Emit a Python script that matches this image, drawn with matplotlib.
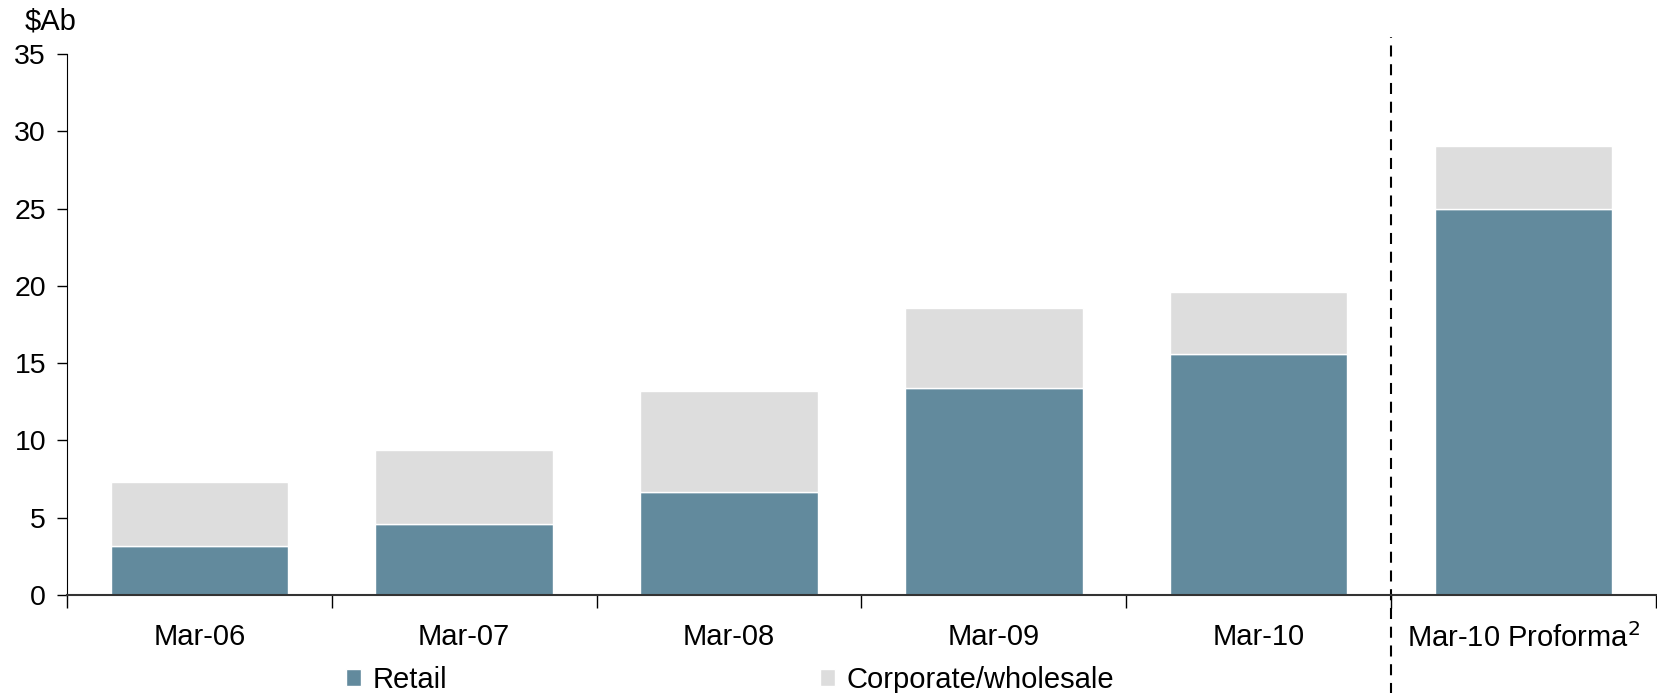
import matplotlib
matplotlib.use("Agg")
import matplotlib.pyplot as plt
import numpy as np

plt.rcParams["font.family"] = ["Liberation Sans", "DejaVu Sans"]

# Data ($A billions)
categories = ["Mar-06", "Mar-07", "Mar-08", "Mar-09", "Mar-10", "Mar-10 Proforma$^2$"]
retail = [3.2, 4.6, 6.65, 13.4, 15.6, 25.0]
corporate = [4.1, 4.8, 6.55, 5.2, 4.0, 4.05]

retail_color = "#628a9d"
corp_color = "#dddddd"

fig = plt.figure(figsize=(16.57, 6.93), dpi=100)
ax = fig.add_axes([0.0404, 0.1414, 0.9590, 0.7806])

x = np.arange(len(categories))
ax.bar(x, retail, width=0.67, color=retail_color, edgecolor="white", linewidth=1, label="Retail")
ax.bar(x, corporate, width=0.67, bottom=retail, color=corp_color, edgecolor="white",
       linewidth=1, label="Corporate/wholesale")

ax.set_xlim(-0.5, len(categories) - 0.5)
ax.set_ylim(0, 35)
ax.set_yticks(np.arange(0, 36, 5))
ax.tick_params(axis="y", labelsize=20.5, length=7, width=1, direction="out", pad=8)

# x ticks at category boundaries, labels centered
ax.set_xticks(np.arange(-0.5, len(categories), 1.0))
ax.set_xticklabels([])
ax.set_xticks(x, minor=True)
ax.set_xticklabels(categories, minor=True, fontsize=21)
ax.tick_params(axis="x", which="major", length=9, width=1, direction="out")
ax.tick_params(axis="x", which="minor", length=0, pad=20)

for s in ["top", "right"]:
    ax.spines[s].set_visible(False)
ax.spines["left"].set_color("black")
ax.spines["bottom"].set_color("#333333")
ax.spines["bottom"].set_linewidth(1.5)

# dashed separator for proforma
ax.axvline(4.5, ymin=-0.19, ymax=1.032, color="black", linewidth=1.5,
           dashes=(5.3, 3.7), clip_on=False)

ax.text(-0.01, 1.035, "$Ab", transform=ax.transAxes, fontsize=21, ha="center", va="bottom")

ax.legend(loc="upper left", bbox_to_anchor=(0.1756, -0.131), ncol=2, frameon=False,
          fontsize=21, handlelength=0.5, handleheight=0.5, handletextpad=0.4,
          columnspacing=12.8, borderaxespad=0, borderpad=0)

fig.savefig("out.png", dpi=100)
